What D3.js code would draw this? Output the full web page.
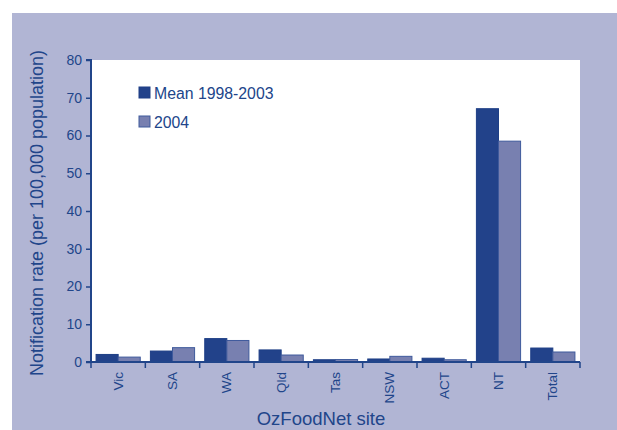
<!DOCTYPE html>
<html><head><meta charset="utf-8">
<script src="https://cdn.jsdelivr.net/npm/d3@7"></script>
<style>body{margin:0;background:#fff}svg{display:block}text{font-family:"Liberation Sans",Arial,sans-serif}</style>
</head><body>
<svg id="c" width="617" height="430"></svg>
<script>
const categories = ["Vic","SA","WA","Qld","Tas","NSW","ACT","NT","Total"];
const seriesNames = ["Mean 1998-2003","2004"];
const mean9803 = [2.0,2.9,6.2,3.2,0.6,0.8,1.0,67.1,3.7];
const y2004 = [1.3,3.8,5.7,1.85,0.65,1.5,0.6,58.5,2.65];
const yTicks = [0,10,20,30,40,50,60,70,80];

const txt = "#21458a", dark = "#22428a", light = "#7880b0";
const svg = d3.select("#c");
svg.append("rect").attr("x",12).attr("y",13).attr("width",605).attr("height",417).attr("fill","#b1b5d4");

const L=91,R=580,T=60,B=362;
svg.append("rect").attr("x",L).attr("y",T).attr("width",R-L).attr("height",B-T).attr("fill","#fff");

const x = d3.scaleBand().domain(categories).range([L,R]).paddingInner(0).paddingOuter(0);
const xs = d3.scaleBand().domain(seriesNames).range([0,x.bandwidth()]).paddingInner(0).paddingOuter(0.23);
const y = d3.scaleLinear().domain([0,80]).range([B,T]);

const data = categories.map((c,i)=>({c, v:[mean9803[i], y2004[i]]}));
const g = svg.append("g");
data.forEach(d=>{
  d.v.forEach((v,j)=>{
    g.append("rect")
      .attr("x", x(d.c)+xs(seriesNames[j]))
      .attr("y", y(v))
      .attr("width", xs.bandwidth())
      .attr("height", B - y(v))
      .attr("fill", j===0?dark:light)
      .attr("stroke", j===0?"#1e3f86":"#3f5a9c")
      .attr("stroke-width",1);
  });
});

// Y axis
const ya = svg.append("g").attr("transform",`translate(${L},0)`)
  .call(d3.axisLeft(y).tickValues(yTicks).tickSize(5).tickPadding(4));
ya.select(".domain").attr("stroke",txt).attr("stroke-width",2).attr("d",`M-5,${T}H0V${B}H-5`);
ya.selectAll(".tick line").attr("stroke",txt).attr("stroke-width",1.5);
ya.selectAll(".tick text").attr("fill",txt).style("font-size","14px").style("font-family","Liberation Sans, Arial, sans-serif");

// X axis baseline and boundary ticks
svg.append("line").attr("x1",L).attr("x2",R).attr("y1",B).attr("y2",B).attr("stroke",txt).attr("stroke-width",2);
const bounds = categories.map(c=>x(c)).concat([R]);
svg.selectAll(".bt").data(bounds).enter().append("line")
  .attr("x1",d=>d).attr("x2",d=>d).attr("y1",B).attr("y2",B+6).attr("stroke",txt).attr("stroke-width",1.5);
svg.selectAll(".xl").data(categories).enter().append("text")
  .attr("transform",d=>`translate(${x(d)+x.bandwidth()/2+4.5},${B+10}) rotate(-90)`)
  .attr("text-anchor","end").attr("fill",txt).style("font-size","13.5px").text(d=>d);

// Titles
svg.append("text").attr("transform",`translate(43,${(T+B)/2+2}) rotate(-90)`)
  .attr("text-anchor","middle").attr("fill",txt).style("font-size","18px")
  .text("Notification rate (per 100,000 population)");
svg.append("text").attr("x",321).attr("y",425).attr("text-anchor","middle").attr("fill",txt)
  .style("font-size","18.5px").text("OzFoodNet site");

// Legend
const lg = svg.append("g");
seriesNames.forEach((s,i)=>{
  lg.append("rect").attr("x",139).attr("y",87+i*29).attr("width",11).attr("height",11)
    .attr("fill",i===0?dark:light).attr("stroke",i===0?"#1e3f86":"#3f5a9c");
  lg.append("text").attr("x",154).attr("y",99+i*29).attr("fill",txt).style("font-size","15.8px").text(s);
});
</script>
</body></html>
